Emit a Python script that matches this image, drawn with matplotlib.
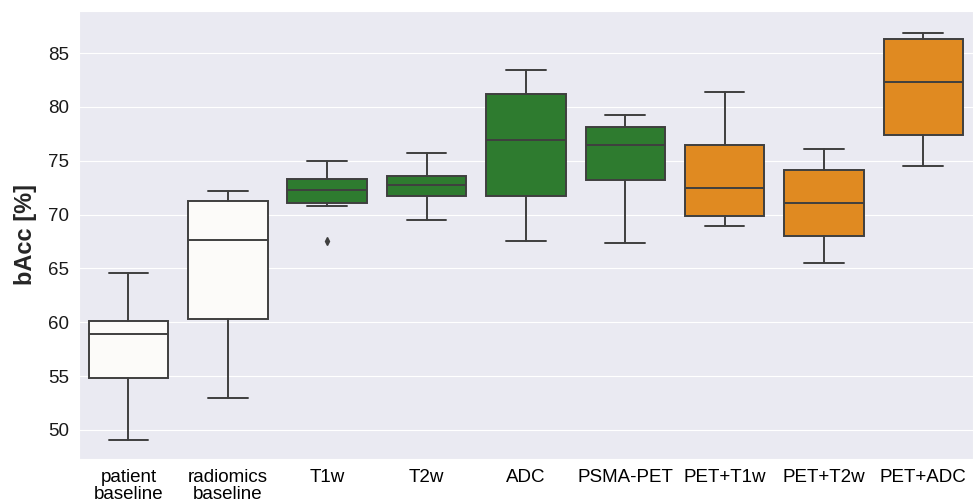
import matplotlib
matplotlib.use("Agg")
import matplotlib.pyplot as plt
import seaborn as sns

categories = ["patient\nbaseline", "radiomics\nbaseline", "T1w", "T2w", "ADC",
              "PSMA-PET", "PET+T1w", "PET+T2w", "PET+ADC"]
whislo = [49.1, 53.0, 70.8, 69.5, 67.5, 67.4, 68.9, 65.5, 74.5]
q1 = [54.8, 60.3, 71.1, 71.7, 71.7, 73.2, 69.9, 68.0, 77.4]
med = [58.9, 67.6, 72.3, 72.7, 76.9, 76.5, 72.5, 71.1, 82.3]
q3 = [60.1, 71.3, 73.3, 73.6, 81.2, 78.1, 76.5, 74.1, 86.3]
whishi = [64.6, 72.2, 75.0, 75.7, 83.4, 79.2, 81.4, 76.1, 86.9]
fliers = [[], [], [67.5], [], [], [], [], [], []]
groups = ["base", "base", "mri", "mri", "mri", "mri", "comb", "comb", "comb"]

palette = {"base": "#fcfbf9", "mri": "#2e7b2f", "comb": "#e08a21"}

sns.set_style("darkgrid")
plt.rcParams["font.family"] = ["Liberation Sans", "DejaVu Sans"]

fig, ax = plt.subplots(figsize=(9.73, 5.01), dpi=100)
fig.subplots_adjust(left=0.081, right=1.0, top=0.978, bottom=0.084)

stats = []
for i in range(len(categories)):
    stats.append(dict(whislo=whislo[i], q1=q1[i], med=med[i], q3=q3[i],
                      whishi=whishi[i], fliers=fliers[i]))

line_c = "#3f3f3f"
bp = ax.bxp(stats, positions=range(len(categories)), widths=0.8,
            patch_artist=True, manage_ticks=False,
            boxprops=dict(edgecolor=line_c, linewidth=1.4),
            medianprops=dict(color=line_c, linewidth=1.4),
            whiskerprops=dict(color=line_c, linewidth=1.4),
            capprops=dict(color=line_c, linewidth=1.4),
            flierprops=dict(marker="d", markersize=4, markerfacecolor=line_c,
                            markeredgecolor=line_c))
for patch, g in zip(bp["boxes"], groups):
    patch.set_facecolor(palette[g])
for cap in bp["caps"]:
    x = cap.get_xdata()
    c = (x[0] + x[1]) / 2
    cap.set_xdata([c - 0.2, c + 0.2])

ax.set_xticks(range(len(categories)))
ax.set_xticklabels(categories, fontsize=13.5, color="black", linespacing=1.0)
ax.tick_params(axis="y", labelsize=13.5, labelcolor="#1a1a1a")
ax.set_xlim(-0.5, len(categories) - 0.5)
ax.set_ylim(47.3, 88.9)
ax.set_yticks([50, 55, 60, 65, 70, 75, 80, 85])
ax.set_ylabel("bAcc [%]", fontsize=17, fontweight="bold", labelpad=8)
ax.grid(axis="x", visible=False)

fig.savefig("out.png", dpi=100)
